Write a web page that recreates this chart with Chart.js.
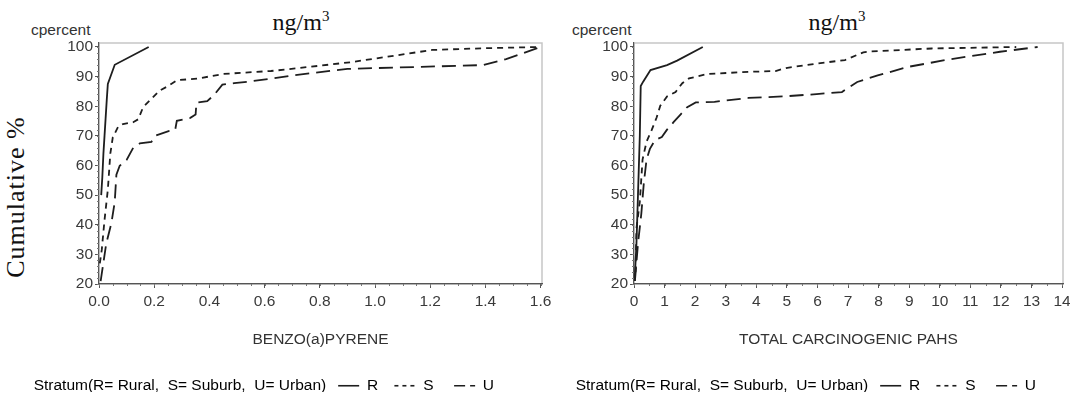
<!DOCTYPE html>
<html>
<head>
<meta charset="utf-8">
<script src="https://cdn.jsdelivr.net/npm/chart.js@4.4.1/dist/chart.umd.min.js"></script>
<style>
  html, body { margin: 0; padding: 0; background: #fff; }
  body { width: 1070px; height: 402px; position: relative; overflow: hidden; }
  canvas { position: absolute; top: 0; }
  #bapChart { left: -43px; }
  #pahChart { left: 520px; }
  .serif { position: absolute; font-family: "Liberation Serif", "Times New Roman", serif; color: #111; white-space: nowrap; line-height: 1; }
  .sans { position: absolute; font-family: "Liberation Sans", Arial, sans-serif; color: #333; white-space: nowrap; line-height: 1; }
  .unit { font-size: 24px; transform: translateX(-50%); }
  .unit span { font-size: 15px; position: relative; top: -9px; }
  .cp { font-size: 15.5px; }
</style>
</head>
<body>
<div class="serif unit" style="left:301px; top:10px;">ng/m<span>3</span></div>
<div class="serif unit" style="left:837px; top:10px;">ng/m<span>3</span></div>
<div class="sans cp" style="left:31px; top:22px;">cpercent</div>
<div class="sans cp" style="left:572px; top:22px;">cpercent</div>
<div class="serif" style="left:16px; top:197px; font-size:26px; letter-spacing:1px; transform: translate(-50%, -50%) rotate(-90deg);">Cumulative %</div>

<canvas id="bapChart" width="595" height="402"></canvas>
<canvas id="pahChart" width="550" height="402"></canvas>

<script>
// benzo(a)pyrene, ng/m3
const bapR_x = [0.008, 0.012, 0.016, 0.020, 0.024, 0.028, 0.032, 0.057, 0.18];
const bapR_y = [50, 56, 64, 70, 76, 82, 87.5, 94, 100];
const bapS_x = [0.003, 0.010, 0.020, 0.032, 0.041, 0.050, 0.069, 0.087, 0.124, 0.142, 0.160, 0.220, 0.250, 0.283, 0.356, 0.450, 0.623, 0.697, 0.915, 1.207, 1.40, 1.59];
const bapS_y = [27, 31.5, 41.6, 51.8, 64, 69.5, 73, 74, 74.6, 75.6, 79.7, 85.3, 86.8, 88.8, 89.3, 90.9, 91.9, 92.6, 94.9, 99, 99.6, 100];
const bapU_x = [0.006, 0.014, 0.026, 0.045, 0.057, 0.063, 0.075, 0.100, 0.124, 0.148, 0.190, 0.203, 0.252, 0.276, 0.282, 0.331, 0.350, 0.353, 0.392, 0.417, 0.447, 0.490, 0.540, 0.623, 0.700, 0.900, 1.39, 1.475, 1.60];
const bapU_y = [21, 26, 33.5, 40.6, 47.7, 56.9, 59.9, 61.9, 66, 67.5, 68, 70, 71.6, 72, 75.1, 76.1, 77.2, 81.2, 81.7, 83.8, 87.3, 87.8, 88.3, 89.3, 90.4, 92.6, 93.9, 95.9, 100];

// total carcinogenic PAHs, ng/m3
const pahR_x = [0.02, 0.08, 0.13, 0.19, 0.22, 0.30, 0.54, 1.08, 1.41, 2.25];
const pahR_y = [21, 33.6, 50, 70, 86.8, 88.3, 92.2, 93.9, 95.4, 100];
const pahS_x = [0.05, 0.08, 0.19, 0.28, 0.41, 0.58, 0.74, 0.86, 1.08, 1.36, 1.58, 1.80, 2.41, 3.74, 4.63, 4.97, 5.97, 6.90, 7.50, 7.74, 9.74, 12.5];
const pahS_y = [24, 38.7, 47.8, 62, 68, 72, 76.2, 80.2, 83.3, 84.8, 87.8, 89.4, 90.9, 91.6, 91.9, 92.9, 94.4, 95.6, 98.2, 98.5, 99.5, 100];
const pahU_x = [0.03, 0.13, 0.24, 0.32, 0.41, 0.52, 0.69, 0.91, 1.08, 1.30, 1.52, 1.74, 2.02, 2.63, 3.74, 4.86, 5.97, 6.80, 7.30, 7.97, 8.97, 10.3, 11.97, 13.2];
const pahU_y = [21, 33.6, 43.8, 53.9, 62, 65.6, 68.6, 69.6, 72.1, 74.7, 77.2, 79.7, 81.3, 81.5, 82.8, 83.3, 84.1, 84.8, 88.2, 90.4, 93.3, 95.8, 98.4, 100];

const strata = ['R', 'S', 'U'];
const bapTicks = [0, 0.2, 0.4, 0.6, 0.8, 1.0, 1.2, 1.4, 1.6];
const pahTicks = [0, 1, 2, 3, 4, 5, 6, 7, 8, 9, 10, 11, 12, 13, 14];
const pctTicks = [20, 30, 40, 50, 60, 70, 80, 90, 100];
const legendTitle = 'Stratum(R= Rural,  S= Suburb,  U= Urban)';

const sans = '"Liberation Sans", Arial, sans-serif';
const ink = '#1e1e1e';
const axisInk = '#555';
const dashes = [[], [6, 5], [14, 7]];
const legendDash = [[], [4, 4], [11, 5]];
const legendGap = [' ', '  ', ''];

function pts(xs, ys) {
    return xs.map((x, i) => ({ x: x, y: ys[i] }));
}

// light frame round the plot area, plus the small minor tick marks
const framePlugin = {
    id: 'frame',
    beforeDraw(chart) {
        const a = chart.chartArea, ctx = chart.ctx;
        ctx.save();
        ctx.strokeStyle = '#c6c6c6';
        ctx.lineWidth = 1.5;
        ctx.strokeRect(a.left, a.top, a.right - a.left, a.bottom - a.top);
        ctx.restore();
    },
    afterDraw(chart, args, opts) {
        const a = chart.chartArea, ctx = chart.ctx;
        const xs = chart.scales.x, ys = chart.scales.y;
        ctx.save();
        ctx.strokeStyle = '#777';
        ctx.lineWidth = 1;
        ctx.beginPath();
        for (let v = xs.min; v <= xs.max + 1e-9; v += opts.xMinor) {
            const px = Math.round(xs.getPixelForValue(v)) + 0.5;
            ctx.moveTo(px, a.bottom);
            ctx.lineTo(px, a.bottom + 2);
        }
        for (let v = ys.min; v <= 100 + 1e-9; v += opts.yMinor) {
            const py = Math.round(ys.getPixelForValue(v)) + 0.5;
            ctx.moveTo(a.left, py);
            ctx.lineTo(a.left - 2, py);
        }
        ctx.stroke();
        ctx.restore();
    }
};

function makeChart(id, series, cfg) {
    const datasets = series.map((s, i) => ({
        label: strata[i],
        data: s,
        borderColor: ink,
        borderWidth: 1.8,
        borderDash: dashes[i],
        pointRadius: 0,
        tension: 0,
        fill: false
    }));
    return new Chart(document.getElementById(id), {
        type: 'line',
        data: { datasets: datasets },
        plugins: [framePlugin],
        options: {
            responsive: false,
            animation: false,
            events: [],
            layout: { padding: { top: 43, left: 0, right: cfg.padRight, bottom: 10 } },
            scales: {
                x: {
                    type: 'linear',
                    min: 0,
                    max: cfg.xMax,
                    afterBuildTicks: (s) => { s.ticks = cfg.xTicks.map(v => ({ value: v })); },
                    afterFit: (s) => { s.height = 82; s.paddingLeft = 0; s.paddingRight = 0; },
                    border: { display: true, color: axisInk, width: 1.2 },
                    grid: { display: true, drawOnChartArea: false, drawTicks: true, tickLength: 4, tickColor: axisInk },
                    ticks: {
                        autoSkip: false, maxRotation: 0, padding: 4, color: '#3a3a3a',
                        font: { family: sans, size: 15.5 },
                        callback: cfg.xFormat
                    },
                    title: {
                        display: true, text: cfg.xTitle, color: '#333',
                        font: { family: sans, size: 15.5 }, padding: { top: 0, bottom: 17 }
                    }
                },
                y: {
                    min: 20,
                    max: 101.35,
                    afterBuildTicks: (s) => { s.ticks = pctTicks.map(v => ({ value: v })); },
                    afterFit: (s) => { s.width = cfg.yWidth; s.paddingTop = 0; s.paddingBottom = 0; },
                    border: { display: true, color: axisInk, width: 1.2 },
                    grid: { display: true, drawOnChartArea: false, drawTicks: true, tickLength: 4, tickColor: axisInk },
                    ticks: { padding: 2, color: '#3a3a3a', font: { family: sans, size: 15.5 } }
                }
            },
            plugins: {
                frame: { xMinor: cfg.xMinor, yMinor: 2 },
                title: { display: false },
                tooltip: { enabled: false },
                legend: {
                    position: 'bottom',
                    align: 'center',
                    maxHeight: 26,
                    labels: {
                        usePointStyle: true,
                        pointStyleWidth: 21,
                        padding: 12,
                        color: '#333',
                        font: { family: sans, size: 15.5 },
                        generateLabels: (chart) => [
                            { text: legendTitle, pointStyle: 'line', strokeStyle: 'rgba(0,0,0,0)', fillStyle: 'rgba(0,0,0,0)', lineWidth: 0, hidden: false },
                            ...chart.data.datasets.map((d, i) => ({
                                text: d.label + legendGap[i],
                                pointStyle: 'line',
                                strokeStyle: ink,
                                fillStyle: ink,
                                lineWidth: 1.6,
                                lineDash: legendDash[i],
                                hidden: false,
                                datasetIndex: i
                            }))
                        ]
                    }
                }
            }
        }
    });
}

makeChart('bapChart', [pts(bapR_x, bapR_y), pts(bapS_x, bapS_y), pts(bapU_x, bapU_y)], {
    xMax: 1.605, xTicks: bapTicks, xMinor: 0.05, xTitle: 'BENZO(a)PYRENE',
    xFormat: (v) => v.toFixed(1), yWidth: 142, padRight: 10
});

makeChart('pahChart', [pts(pahR_x, pahR_y), pts(pahS_x, pahS_y), pts(pahU_x, pahU_y)], {
    xMax: 14.03, xTicks: pahTicks, xMinor: 0.5, xTitle: 'TOTAL CARCINOGENIC PAHS',
    xFormat: (v) => String(v), yWidth: 114, padRight: 7
});
</script>
</body>
</html>
